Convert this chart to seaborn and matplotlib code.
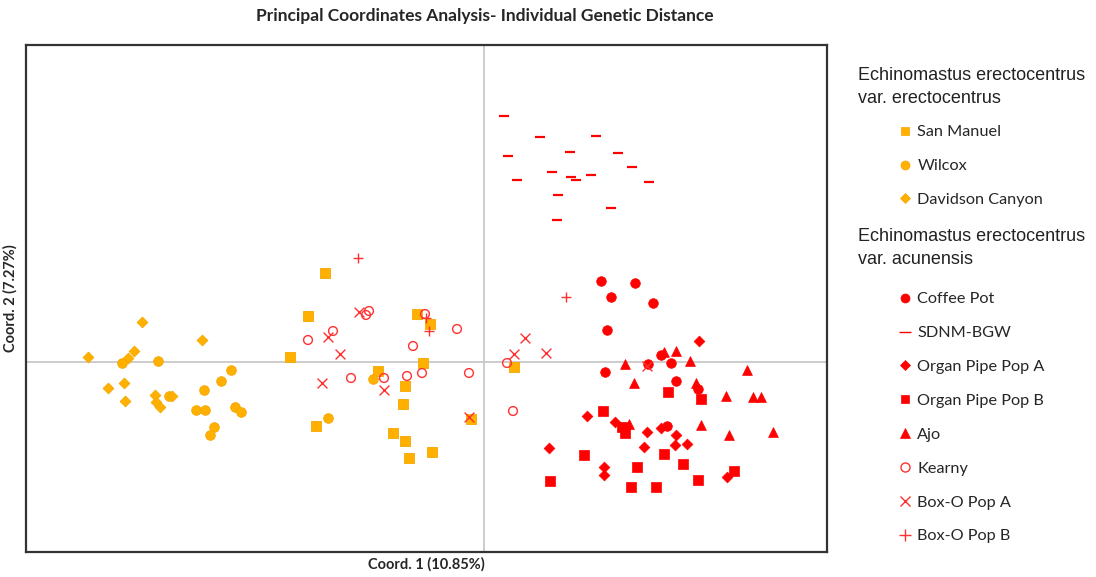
import matplotlib
matplotlib.use("Agg")
import matplotlib.pyplot as plt
from matplotlib.lines import Line2D
import seaborn as sns
import pandas as pd

# ---------------- data (Coord. 1, Coord. 2) ----------------
san_manuel_x = [-1.59, -1.76, -0.67, -0.54, -1.94, -0.61, -1.06, -0.79, -0.81, -1.68, -0.91, -0.79, -0.52, -0.75, -0.13, 0.30]
san_manuel_y = [0.89, 0.46, 0.48, 0.38, 0.05, -0.01, -0.09, -0.24, -0.42, -0.64, -0.71, -0.79, -0.90, -0.96, -0.57, -0.05]

wilcox_x = [-3.62, -3.26, -3.15, -2.80, -2.63, -2.53, -2.88, -2.79, -2.49, -2.43, -2.70, -2.74, -1.11, -1.56]
wilcox_y = [-0.01, 0.01, -0.34, -0.28, -0.19, -0.08, -0.48, -0.48, -0.45, -0.50, -0.65, -0.73, -0.17, -0.56]

davidson_x = [-3.42, -2.82, -3.96, -3.50, -3.56, -3.76, -3.60, -3.59, -3.29, -3.28, -3.24, -3.12]
davidson_y = [0.40, 0.22, 0.05, 0.11, 0.04, -0.26, -0.21, -0.39, -0.33, -0.40, -0.45, -0.34]

coffee_x = [1.17, 1.51, 1.27, 1.69, 1.23, 1.21, 1.64, 1.77, 1.87, 1.92, 2.14, 1.83]
coffee_y = [0.81, 0.79, 0.65, 0.59, 0.32, -0.10, -0.02, 0.07, -0.01, -0.19, -0.27, -0.64]

sdnm_x = [0.20, 0.56, 1.12, 0.24, 0.86, 1.34, 1.48, 0.68, 0.87, 0.92, 1.07, 0.33, 1.65, 0.74, 1.27, 0.73]
sdnm_y = [2.46, 2.25, 2.26, 2.06, 2.10, 2.09, 1.95, 1.90, 1.85, 1.82, 1.87, 1.82, 1.80, 1.67, 1.54, 1.42]

organ_a_x = [1.03, 1.31, 0.65, 1.20, 1.20, 1.63, 1.77, 1.92, 1.60, 1.91, 2.03, 2.15, 2.43]
organ_a_y = [-0.54, -0.60, -0.86, -1.05, -1.13, -0.70, -0.66, -0.73, -0.85, -0.83, -0.82, 0.21, -1.15]

organ_b_x = [1.19, 1.38, 1.41, 1.00, 1.53, 0.66, 1.47, 1.72, 1.84, 2.17, 1.80, 1.99, 2.50, 2.14]
organ_b_y = [-0.49, -0.65, -0.71, -0.93, -1.05, -1.19, -1.25, -1.25, -0.30, -0.37, -0.92, -1.02, -1.09, -1.18]

ajo_x = [1.41, 1.50, 1.45, 1.80, 1.92, 2.06, 2.63, 2.12, 2.42, 2.69, 2.77, 2.17, 2.45, 2.89]
ajo_y = [-0.02, -0.21, -0.62, 0.10, 0.11, 0.01, -0.08, -0.21, -0.34, -0.35, -0.35, -0.63, -0.73, -0.70]

kearny_x = [-1.15, -1.18, -1.51, -1.76, -0.59, -0.27, -0.71, -1.33, -1.00, -0.77, -0.62, -0.15, 0.23, 0.29]
kearny_y = [0.51, 0.47, 0.31, 0.22, 0.48, 0.33, 0.16, -0.16, -0.16, -0.14, -0.11, -0.11, -0.01, -0.49]

boxo_a_x = [-1.25, -1.56, -1.44, -1.62, -1.00, -0.15, 0.41, 0.30, 0.62, 1.63]
boxo_a_y = [0.50, 0.25, 0.08, -0.21, -0.28, -0.55, 0.24, 0.08, 0.09, -0.04]

boxo_b_x = [-1.26, -0.58, -0.55, 0.82]
boxo_b_y = [1.04, 0.44, 0.31, 0.65]

group1_title = "Echinomastus erectocentrus\nvar. erectocentrus"
group2_title = "Echinomastus erectocentrus\nvar. acunensis"
group1_labels = ["San Manuel", "Wilcox", "Davidson Canyon"]
group2_labels = ["Coffee Pot", "SDNM-BGW", "Organ Pipe Pop A", "Organ Pipe Pop B",
                 "Ajo", "Kearny", "Box-O Pop A", "Box-O Pop B"]

title = "Principal Coordinates Analysis- Individual Genetic Distance"
xlabel = "Coord. 1 (10.85%)"
ylabel = "Coord. 2 (7.27%)"

# ---------------- styles ----------------
ORANGE = "#FFB000"
ORANGE_E = "#F4A700"
RED = "#FF0000"
LRED = "#FF3030"

series = [
    ("San Manuel", san_manuel_x, san_manuel_y, dict(marker="s", s=42, color=ORANGE, edgecolor=ORANGE_E, linewidth=0.6)),
    ("Wilcox", wilcox_x, wilcox_y, dict(marker="o", s=48, color=ORANGE, edgecolor=ORANGE_E, linewidth=0.6)),
    ("Davidson Canyon", davidson_x, davidson_y, dict(marker="D", s=30, color=ORANGE, edgecolor=ORANGE_E, linewidth=0.6)),
    ("Coffee Pot", coffee_x, coffee_y, dict(marker="o", s=48, color=RED, edgecolor=RED, linewidth=0.5)),
    ("SDNM-BGW", sdnm_x, sdnm_y, dict(marker="_", s=50, color=RED, linewidth=1.6)),
    ("Organ Pipe Pop A", organ_a_x, organ_a_y, dict(marker="D", s=30, color=RED, edgecolor=RED, linewidth=0.5)),
    ("Organ Pipe Pop B", organ_b_x, organ_b_y, dict(marker="s", s=42, color=RED, edgecolor=RED, linewidth=0.5)),
    ("Ajo", ajo_x, ajo_y, dict(marker="^", s=50, color=RED, edgecolor=RED, linewidth=0.5)),
    ("Kearny", kearny_x, kearny_y, dict(marker="o", s=40, facecolor="none", edgecolor=LRED, linewidth=1.0)),
    ("Box-O Pop A", boxo_a_x, boxo_a_y, dict(marker="x", s=50, color=LRED, linewidth=1.0)),
    ("Box-O Pop B", boxo_b_x, boxo_b_y, dict(marker="+", s=60, color=LRED, linewidth=1.0)),
]

sns.set_theme(style="white")
plt.rcParams["font.family"] = ["Lato", "DejaVu Sans"]

fig = plt.figure(figsize=(10.96, 5.77), dpi=100)
ax = fig.add_axes([26 / 1096, 1 - 552 / 577, (827 - 26) / 1096, (552 - 45) / 577])

ax.axhline(0, color="#c8c8c8", lw=1.3, zorder=0)
ax.axvline(0, color="#c8c8c8", lw=1.3, zorder=0)

for name, xs, ys, kw in series:
    df = pd.DataFrame({"x": xs, "y": ys})
    sns.scatterplot(data=df, x="x", y="y", ax=ax, legend=False, zorder=3, **kw)

ax.set_xlim(-4.58, 3.43)
ax.set_ylim(-1.90, 3.17)
ax.set_xticks([])
ax.set_yticks([])
ax.set_xlabel(xlabel, fontsize=10.5, fontweight="bold", labelpad=4)
ax.set_ylabel(ylabel, fontsize=10.5, fontweight="bold", labelpad=6)
for sp in ax.spines.values():
    sp.set_color("#333333")
    sp.set_linewidth(1.6)

fig.text(485 / 1096, 1 - 16 / 577, title, ha="center", va="center",
         fontsize=12.5, fontweight="bold")

# ---------------- legend ----------------
def handle(kw):
    m = kw["marker"]
    fc = kw.get("facecolor", kw.get("color"))
    ec = kw.get("edgecolor", kw.get("color"))
    size = {"s": 6, "o": 6.5, "D": 5, "^": 7, "_": 8, "x": 7, "+": 8}[m]
    mew = 1.0 if (m in "_x+" or fc == "none") else 0.5
    return Line2D([], [], linestyle="none", marker=m, markersize=size,
                  markerfacecolor=fc, markeredgecolor=ec, markeredgewidth=mew)

handles = {name: handle(kw) for name, _, _, kw in series}

fig.text(858 / 1096, 1 - 87 / 577, group1_title, ha="left", va="center",
         fontsize=13, family=["Liberation Sans"], linespacing=1.4, color="#222222")
fig.text(858 / 1096, 1 - 248 / 577, group2_title, ha="left", va="center",
         fontsize=13, family=["Liberation Sans"], linespacing=1.4, color="#222222")

common = dict(loc="upper left", frameon=False, handlelength=1.0, handletextpad=0.25,
              borderpad=0, borderaxespad=0, labelspacing=1.2, fontsize=11.7)
leg1 = fig.legend([handles[n] for n in group1_labels], group1_labels,
                  bbox_to_anchor=(897 / 1096, 1 - 125 / 577), **common)
leg2 = fig.legend([handles[n] for n in group2_labels], group2_labels,
                  bbox_to_anchor=(897 / 1096, 1 - 292 / 577), **common)

fig.savefig("out.png", dpi=100)
